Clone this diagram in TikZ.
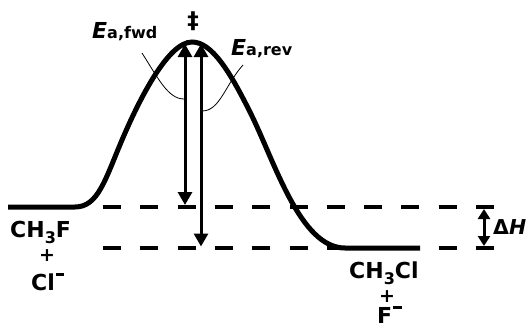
\documentclass[tikz,border=0pt]{standalone}
\usepackage{fontspec}
\setmainfont{DejaVu Sans}
\usetikzlibrary{arrows.meta}
\newcommand{\chgminus}{\hspace{1pt}\raisebox{14.5pt}{\rule{8.5pt}{3pt}}}
\newcommand{\chgsub}[1]{\raisebox{-6pt}{\fontsize{16}{16}\selectfont #1}}
\begin{document}
\begin{tikzpicture}[x=1pt,y=-1pt,
  lbl/.style={font=\fontsize{22}{24}\selectfont\bfseries, inner sep=0pt, anchor=base west},
  plus/.style={font=\fontsize{19}{20}\selectfont\bfseries, inner sep=0pt, anchor=center},
  energy/.style={line width=5pt},
  level/.style={line width=4pt, dash pattern=on 18pt off 19.3pt},
  barrier/.style={line width=3pt, {Triangle[width=14pt,length=13pt]}-{Triangle[width=14pt,length=13pt]}},
  dharrow/.style={line width=3pt, {Triangle[width=12pt,length=10pt]}-{Triangle[width=12pt,length=10pt]}},
  leader/.style={line width=0.8pt}]
\useasboundingbox (0,0) rectangle (531,327);
% energy profile
\draw[energy] (8,207) -- (75,207) .. controls (98,207) and (105,180) .. (122,140)
  .. controls (139,100) and (168,42) .. (192,42)
  .. controls (212,42) and (230,72) .. (250,112)
  .. controls (275,162) and (300,248) .. (345,248) -- (420,248);
% dashed levels
\coordinate (uL) at (103,207); \coordinate (uR) at (494,207);
\coordinate (lL) at (103,248); \coordinate (lR) at (494,248);
\draw[level] (uL) -- (uR);
\draw[level] (lL) -- (lR);
% activation arrows
\coordinate (fT) at (185,44); \coordinate (fB) at (185,205);
\coordinate (rT) at (201,44); \coordinate (rB) at (201,246.5);
\draw[barrier] (fT) -- (fB);
\draw[barrier] (rT) -- (rB);
% Delta H arrow
\coordinate (hT) at (484,209); \coordinate (hB) at (484,246);
\draw[dharrow] (hT) -- (hB);
% labels
\node[font=\fontsize{23}{24}\selectfont\bfseries, inner sep=0pt] (ts) at (193,21) {‡};
\node[inner sep=0pt, anchor=base west] (efwd) at (92,38)
  {\fontsize{22}{24}\selectfont\bfseries\itshape E\fontsize{16}{17}\selectfont\upshape a,fwd};
\node[inner sep=0pt, anchor=base west] (erev) at (231,55)
  {\fontsize{22}{24}\selectfont\bfseries\itshape E\fontsize{16}{17}\selectfont\upshape a,rev};
\node[inner sep=0pt, anchor=base west] (dh) at (493,234)
  {\fontsize{20.5}{22}\selectfont\bfseries Δ\itshape H};
\node[lbl] (r1) at (10,237) {CH\chgsub{3}F};
\node[plus] (r2) at (47,256) {+};
\node[lbl] (r3) at (31,290) {Cl\chgminus};
\node[lbl] (p1) at (349,278.5) {CH\chgsub{3}Cl};
\node[plus] (p2) at (387,296.5) {+};
\node[lbl] (p3) at (377,323) {F\chgminus};
% leaders
\coordinate (fa) at (142,53); \coordinate (fb) at (184,99);
\coordinate (ra) at (243,65); \coordinate (rb) at (202,111);
\draw[leader] (fa) .. controls (158,78) and (168,99) .. (fb);
\draw[leader] (ra) .. controls (225,85) and (220,111) .. (rb);
\end{tikzpicture}
\end{document}
